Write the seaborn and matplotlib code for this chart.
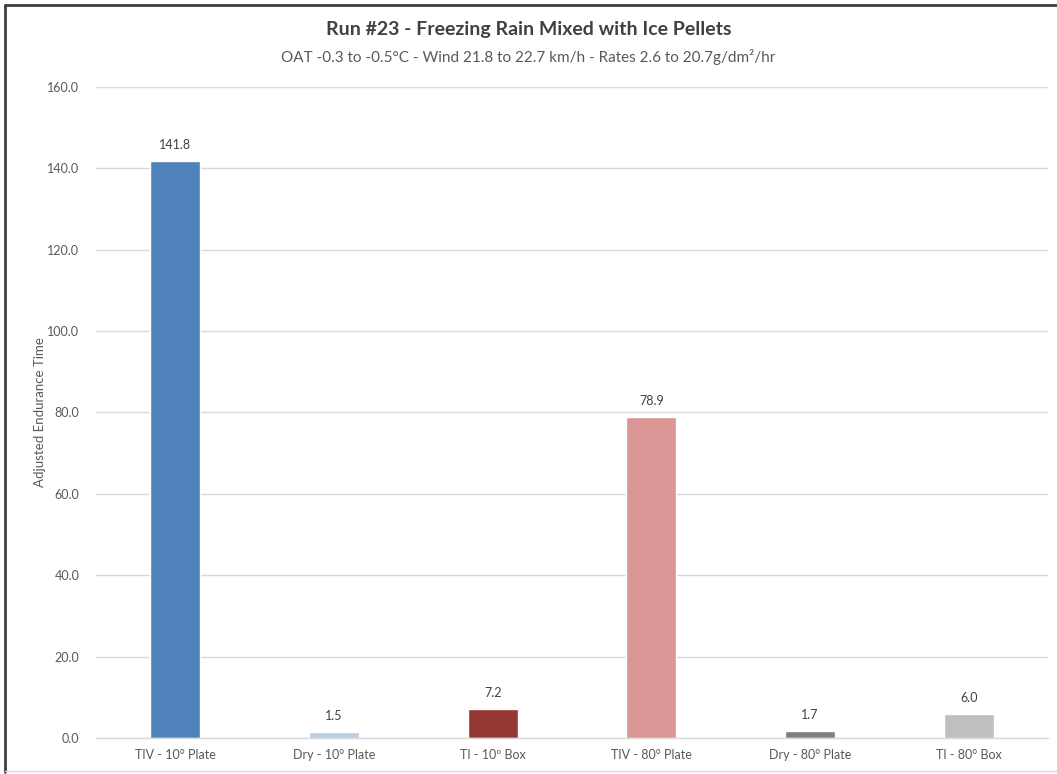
import matplotlib
matplotlib.use("Agg")
import matplotlib.pyplot as plt
import seaborn as sns
import pandas as pd
from matplotlib.lines import Line2D

categories = ["TIV - 10° Plate", "Dry - 10° Plate", "TI - 10º Box",
              "TIV - 80° Plate", "Dry - 80° Plate", "TI - 80° Box"]
values = [141.8, 1.5, 7.2, 78.9, 1.7, 6.0]
colors = ["#4F81BD", "#B9CDE5", "#953735", "#D99694", "#7F7F7F", "#BFBFBF"]
yticks = [0, 20, 40, 60, 80, 100, 120, 140, 160]

sns.set_theme(style="white")
plt.rcParams['font.family'] = ['Lato', 'DejaVu Sans']

df = pd.DataFrame({"cat": categories, "val": values})

fig = plt.figure(figsize=(10.57, 7.74), dpi=100)
W, H = 1057, 774
ax = fig.add_axes([96 / W, 1 - 738 / H, (1048 - 96) / W, (738 - 87) / H])

sns.barplot(data=df, x="cat", y="val", hue="cat", palette=colors, legend=False,
            width=0.315, ax=ax, saturation=1)

ax.set_ylim(0, 160)
ax.set_xlim(-0.5, 5.5)
ax.set_yticks(yticks)
ax.set_yticklabels([f"{v:.1f}" for v in yticks])
ax.yaxis.grid(True, color="#D9D9D9", linewidth=1)
ax.set_axisbelow(True)
for s in ["top", "right", "left"]:
    ax.spines[s].set_visible(False)
ax.spines["bottom"].set_color("#D9D9D9")
ax.spines["bottom"].set_linewidth(1)
ax.tick_params(axis="both", length=0, labelsize=9, labelcolor="#595959", pad=8)
ax.tick_params(axis="y", pad=12)
ax.set_xlabel("")
ax.set_ylabel("Adjusted Endurance Time", fontsize=9.5, color="#595959", labelpad=4)
ax.yaxis.set_label_coords(-50 / 952, 0.5)

for i, v in enumerate(values):
    ax.annotate(f"{v:.1f}", (i, v), xytext=(0, 7), textcoords="offset points",
                ha="center", va="bottom", fontsize=9, color="#404040")

fig.text(0.5, 1 - 30 / H, "Run #23 - Freezing Rain Mixed with Ice Pellets",
         ha="center", va="center", fontsize=14, fontweight="bold", color="#404040")
fig.text(0.5, 1 - 57 / H, "OAT -0.3 to -0.5°C - Wind 21.8 to 22.7 km/h - Rates 2.6 to 20.7g/dm²/hr",
         ha="center", va="center", fontsize=11, color="#595959")

# chart border
fig.add_artist(Line2D([5 / W, 5 / W], [1 - 5 / H, 1 - 772 / H], color="#404040", linewidth=2,
                      transform=fig.transFigure))
fig.add_artist(Line2D([5 / W, 1], [1 - 5 / H, 1 - 5 / H], color="#404040", linewidth=2,
                      transform=fig.transFigure))
fig.add_artist(Line2D([5 / W, 1], [1 - 771 / H, 1 - 771 / H], color="#D9D9D9", linewidth=1,
                      transform=fig.transFigure))

fig.savefig("out.png", dpi=100)
